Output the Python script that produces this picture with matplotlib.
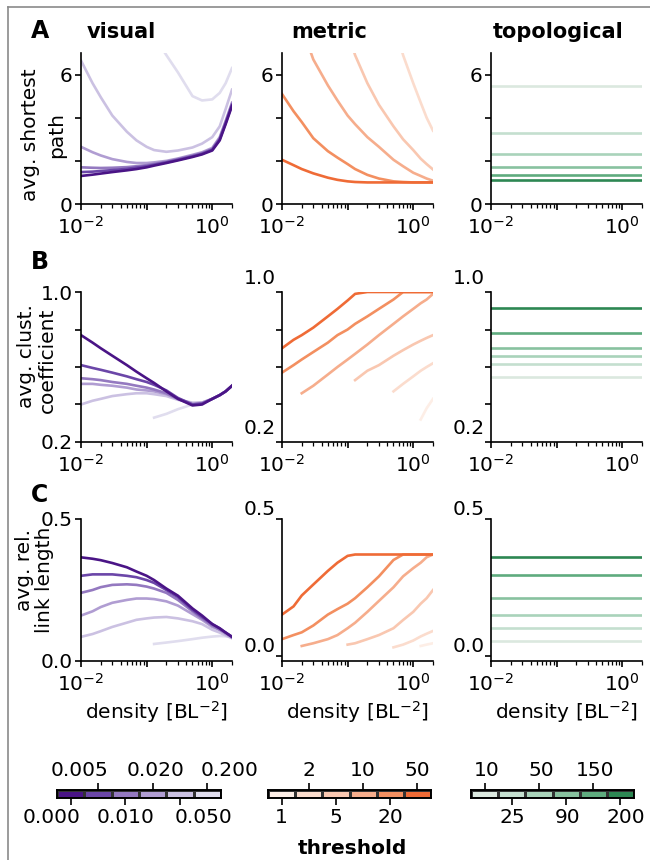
import numpy as np
import matplotlib
matplotlib.use("Agg")
import matplotlib.pyplot as plt
from matplotlib.colors import ListedColormap
from matplotlib.lines import Line2D
from matplotlib.ticker import LogLocator, NullFormatter

nan = np.nan

# shared density grid [BL^-2]
density = [0.01, 0.015, 0.02, 0.03, 0.05, 0.07, 0.1, 0.13, 0.2, 0.3, 0.5, 0.7, 1.0, 1.3, 1.6, 2.0]

visual_thr = ['0.000', '0.005', '0.010', '0.020', '0.050', '0.200']
metric_thr = ['1', '2', '5', '10', '20', '50']
topo_thr = ['10', '25', '50', '90', '150', '200']

visual_colors = ['#4a1486', '#6b46a8', '#9479c0', '#b09dd2', '#cbc1e2', '#e0ddee']
metric_colors = ['#fdeee6', '#fbdccd', '#f9c7b0', '#f6ad8c', '#f38f60', '#ef6b36']
topo_colors = ['#dbe8df', '#c4dfcf', '#a9d3ba', '#88c29f', '#5fab7e', '#2d8753']

# visual: one row per threshold (0.000 ... 0.200)
visual_path = [
    [1.30, 1.36, 1.41, 1.48, 1.56, 1.62, 1.70, 1.78, 1.90, 2.02, 2.18, 2.30, 2.48, 2.95, 3.70, 4.55],
    [1.48, 1.50, 1.53, 1.57, 1.63, 1.69, 1.75, 1.82, 1.93, 2.05, 2.21, 2.33, 2.52, 3.00, 3.75, 4.60],
    [1.70, 1.68, 1.67, 1.68, 1.71, 1.75, 1.80, 1.86, 1.96, 2.08, 2.24, 2.36, 2.55, 3.05, 3.80, 4.65],
    [2.65, 2.40, 2.25, 2.08, 1.95, 1.90, 1.90, 1.93, 2.00, 2.11, 2.28, 2.40, 2.60, 3.10, 3.85, 4.70],
    [6.65, 5.60, 4.95, 4.10, 3.35, 2.95, 2.65, 2.50, 2.42, 2.48, 2.62, 2.80, 3.10, 3.60, 4.40, 5.30],
    [nan, nan, nan, nan, nan, nan, nan, 7.80, 6.90, 6.10, 5.00, 4.80, 4.85, 5.15, 5.60, 6.30],
]
visual_clust = [
    [0.77, 0.73, 0.70, 0.66, 0.61, 0.575, 0.54, 0.515, 0.47, 0.43, 0.395, 0.40, 0.43, 0.45, 0.47, 0.50],
    [0.61, 0.595, 0.585, 0.57, 0.55, 0.535, 0.52, 0.505, 0.475, 0.435, 0.40, 0.405, 0.43, 0.45, 0.47, 0.50],
    [0.54, 0.535, 0.53, 0.52, 0.51, 0.50, 0.49, 0.48, 0.46, 0.43, 0.40, 0.405, 0.43, 0.45, 0.47, 0.50],
    [0.51, 0.51, 0.505, 0.50, 0.49, 0.48, 0.475, 0.47, 0.455, 0.43, 0.405, 0.41, 0.43, 0.45, 0.47, 0.50],
    [0.40, 0.42, 0.43, 0.445, 0.455, 0.46, 0.46, 0.455, 0.445, 0.425, 0.41, 0.41, 0.43, 0.45, 0.47, 0.50],
    [nan, nan, nan, nan, nan, nan, nan, 0.33, 0.35, 0.375, 0.40, 0.41, 0.43, 0.45, 0.47, 0.50],
]
visual_link = [
    [0.365, 0.36, 0.355, 0.345, 0.33, 0.315, 0.30, 0.285, 0.255, 0.23, 0.185, 0.16, 0.13, 0.115, 0.10, 0.085],
    [0.30, 0.305, 0.305, 0.305, 0.30, 0.295, 0.285, 0.275, 0.25, 0.225, 0.18, 0.155, 0.13, 0.115, 0.10, 0.085],
    [0.24, 0.25, 0.26, 0.268, 0.27, 0.268, 0.262, 0.255, 0.24, 0.215, 0.175, 0.15, 0.125, 0.11, 0.10, 0.085],
    [0.16, 0.175, 0.19, 0.205, 0.215, 0.22, 0.22, 0.218, 0.21, 0.195, 0.165, 0.145, 0.12, 0.11, 0.095, 0.082],
    [0.085, 0.095, 0.105, 0.12, 0.135, 0.145, 0.15, 0.153, 0.155, 0.15, 0.14, 0.13, 0.11, 0.10, 0.09, 0.08],
    [nan, nan, nan, nan, nan, nan, nan, 0.06, 0.065, 0.07, 0.077, 0.082, 0.086, 0.088, 0.087, 0.085],
]

# metric: one row per threshold (1 ... 50)
metric_path = [
    [nan] * 16,
    [nan] * 10 + [8.5, 6.9, 5.6, 4.7, 4.0, 3.4],
    [nan] * 6 + [8.0, 6.9, 5.6, 4.6, 3.6, 3.0, 2.5, 2.1, 1.85, 1.6],
    [nan, nan, 8.2, 6.7, 5.5, 4.8, 4.1, 3.7, 3.1, 2.65, 2.05, 1.75, 1.45, 1.3, 1.18, 1.08],
    [5.1, 4.3, 3.8, 3.05, 2.45, 2.15, 1.85, 1.62, 1.35, 1.18, 1.05, 1.02, 1.0, 1.0, 1.0, 1.0],
    [2.05, 1.80, 1.62, 1.42, 1.22, 1.12, 1.05, 1.02, 1.0, 1.0, 1.0, 1.0, 1.0, 1.0, 1.0, 1.0],
]
metric_clust = [
    [nan] * 13 + [0.32, 0.38, 0.43],
    [nan] * 10 + [0.47, 0.51, 0.55, 0.58, 0.60, 0.62],
    [nan] * 7 + [0.53, 0.58, 0.61, 0.66, 0.69, 0.72, 0.74, 0.755, 0.77],
    [nan, nan, 0.46, 0.50, 0.56, 0.60, 0.64, 0.67, 0.72, 0.77, 0.83, 0.87, 0.91, 0.94, 0.96, 0.99],
    [0.57, 0.61, 0.64, 0.68, 0.73, 0.77, 0.80, 0.83, 0.87, 0.91, 0.96, 1.0, 1.0, 1.0, 1.0, 1.0],
    [0.70, 0.745, 0.77, 0.81, 0.87, 0.91, 0.955, 0.99, 1.0, 1.0, 1.0, 1.0, 1.0, 1.0, 1.0, 1.0],
]
metric_link = [
    [nan] * 13 + [0.035, 0.04, 0.045],
    [nan] * 10 + [0.03, 0.04, 0.055, 0.07, 0.08, 0.09],
    [nan] * 6 + [0.04, 0.045, 0.06, 0.075, 0.10, 0.13, 0.16, 0.19, 0.21, 0.24],
    [nan, nan, 0.035, 0.045, 0.06, 0.075, 0.10, 0.12, 0.16, 0.20, 0.25, 0.29, 0.32, 0.34, 0.36, 0.37],
    [0.06, 0.075, 0.085, 0.11, 0.15, 0.17, 0.19, 0.21, 0.25, 0.29, 0.35, 0.37, 0.37, 0.37, 0.37, 0.37],
    [0.15, 0.18, 0.22, 0.26, 0.31, 0.34, 0.365, 0.37, 0.37, 0.37, 0.37, 0.37, 0.37, 0.37, 0.37, 0.37],
]

# topological: flat level per threshold (10 ... 200)
topo_path = [5.45, 3.30, 2.33, 1.72, 1.35, 1.12]
topo_clust = [0.545, 0.615, 0.66, 0.70, 0.78, 0.915]
topo_link = [0.055, 0.10, 0.148, 0.21, 0.296, 0.36]

row_labels = [('avg. shortest', 'path'), ('avg. clust.', 'coefficient'), ('avg. rel.', 'link length')]
col_titles = ['visual', 'metric', 'topological']

W, H = 650, 860
fig = plt.figure(figsize=(6.5, 8.6), dpi=100)
FS = 14.5


def box(x0, y0, x1, y1):
    return [x0 / W, 1 - y1 / H, (x1 - x0) / W, (y1 - y0) / H]


cols_x = [(81, 232), (282, 433), (491, 642)]
rows_y = [(53, 204), (292, 442), (519, 661)]

yticks = [[0, 2, 4, 6], [0.2, 0.4, 0.6, 0.8, 1.0], [0.0, 0.5]]
ylabs = [['0', '', '', '6'], ['0.2', '', '', '', '1.0'], ['0.0', '0.5']]
label_shift = [0, 10, 6.5]

data = [
    [visual_path, metric_path, topo_path],
    [visual_clust, metric_clust, topo_clust],
    [visual_link, metric_link, topo_link],
]
colors = [visual_colors, metric_colors, topo_colors]

for r in range(3):
    for c in range(3):
        ax = fig.add_axes(box(cols_x[c][0], rows_y[r][0], cols_x[c][1], rows_y[r][1]))
        series = data[r][c]
        if c == 0:
            for i in range(5, -1, -1):
                ax.plot(density, series[i], color=colors[c][i], lw=1.9)
        elif c == 1:
            for i in range(6):
                ax.plot(density, series[i], color=colors[c][i], lw=1.9)
        else:
            for i in range(6):
                ax.plot([density[0], density[-1]], [series[i], series[i]],
                        color=colors[c][i], lw=1.9)

        ax.set_xscale('log')
        ax.set_xlim(0.01, 2.0)
        ax.set_xticks([0.01, 0.1, 1])
        ax.set_xticklabels(['$10^{-2}$', '', '$10^{0}$'])
        ax.xaxis.set_minor_locator(LogLocator(base=10, subs=np.arange(2, 10) * 1.0, numticks=20))
        ax.xaxis.set_minor_formatter(NullFormatter())
        for s in ['top', 'right']:
            ax.spines[s].set_visible(False)
        for s in ['left', 'bottom']:
            ax.spines[s].set_linewidth(1.2)
        ax.tick_params(which='major', length=4.5, width=1.2, labelsize=FS, pad=1.5)
        ax.tick_params(axis='x', which='major', pad=4)
        ax.tick_params(which='minor', length=2.6, width=0.9)

        if r == 0:
            ax.set_ylim(0, 7)
        elif r == 1:
            ax.set_ylim(0.2, 1.0)
        else:
            ax.set_ylim((0, 0.5) if c == 0 else (-0.02, 0.5))
        ax.set_yticks(yticks[r])
        if c > 0 and r > 0:
            ax.set_yticklabels([''] * len(yticks[r]))
            for v, lab in zip(yticks[r], ylabs[r]):
                if lab:
                    ax.annotate(lab, xy=(0, v), xycoords=('axes fraction', 'data'),
                                xytext=(-4.5, label_shift[r]), textcoords='offset points',
                                ha='right', va='center', fontsize=FS)
        else:
            ax.set_yticklabels(ylabs[r])

        if r == 2:
            ax.set_xlabel('density [BL$^{-2}$]', fontsize=FS, labelpad=3)

# column titles and panel letters
for t, xc in zip(col_titles, [121, 329, 558]):
    fig.text(xc / W, 1 - 32 / H, t, ha='center', va='center', fontsize=15, fontweight='bold')
for letter, yc in zip(['A', 'B', 'C'], [31, 262, 495]):
    fig.text(40 / W, 1 - yc / H, letter, ha='center', va='center', fontsize=17, fontweight='bold')

# two-line y labels, one text per line
label_pos = [((30, 135), (57, 135)), ((26, 356), (47, 360)), ((25, 570), (45, 580))]
for (l1, l2), ((x1, y1), (x2, y2)) in zip(row_labels, label_pos):
    fig.text(x1 / W, 1 - y1 / H, l1, ha='center', va='center', rotation=90, fontsize=FS)
    fig.text(x2 / W, 1 - y2 / H, l2, ha='center', va='center', rotation=90, fontsize=FS)


# discrete colorbars with alternating tick labels
def colorbar(x0, x1, cols, labels, top_first, top_dx, bot_dx):
    cax = fig.add_axes(box(x0, 790, x1, 798))
    cax.pcolormesh(np.arange(7), [0, 1], np.arange(6)[None, :],
                   cmap=ListedColormap(cols), edgecolors='#333333', linewidth=0.8)
    cax.set_xlim(0, 6)
    cax.set_ylim(0, 1)
    cax.set_yticks([])
    centers = np.arange(6) + 0.5
    top_idx = [0, 2, 4] if top_first else [1, 3, 5]
    bot_idx = [1, 3, 5] if top_first else [0, 2, 4]
    cax.set_xticks(centers[bot_idx])
    cax.set_xticklabels([''] * 3)
    cax.tick_params(length=5, width=1.2)
    for s in cax.spines.values():
        s.set_linewidth(1.2)
    tax = cax.twiny()
    tax.set_xlim(0, 6)
    tax.set_xticks(centers[top_idx])
    tax.set_xticklabels([''] * 3)
    tax.tick_params(length=5, width=1.2)
    for s in tax.spines.values():
        s.set_linewidth(1.2)
    for k, i in enumerate(bot_idx):
        cax.annotate(labels[i], xy=(centers[i], 0), xycoords=('data', 'axes fraction'),
                     xytext=(bot_dx[k] * 0.72, -7.5), textcoords='offset points',
                     ha='center', va='top', fontsize=FS)
    for k, i in enumerate(top_idx):
        cax.annotate(labels[i], xy=(centers[i], 1), xycoords=('data', 'axes fraction'),
                     xytext=(top_dx[k] * 0.72, 7), textcoords='offset points',
                     ha='center', va='bottom', fontsize=FS)


colorbar(57, 221, visual_colors, visual_thr, False, [-19, 3, 22], [-19, 0, 24])
colorbar(268, 431, metric_colors, metric_thr, False, [0, 0, 0], [0, 0, 0])
colorbar(471, 634, topo_colors, topo_thr, True, [2, 2, 2], [1, 1, 5])

fig.text(352 / W, 1 - 849 / H, 'threshold', ha='center', va='center',
         fontsize=FS, fontweight='bold')

# thin frame at the left and top edges
fig.add_artist(Line2D([8 / W, 8 / W], [0, 1 - 7 / H], color='#8a8a8a', lw=1.2))
fig.add_artist(Line2D([8 / W, 1], [1 - 7 / H, 1 - 7 / H], color='#8a8a8a', lw=1.2))

fig.savefig('out.png', dpi=100)
